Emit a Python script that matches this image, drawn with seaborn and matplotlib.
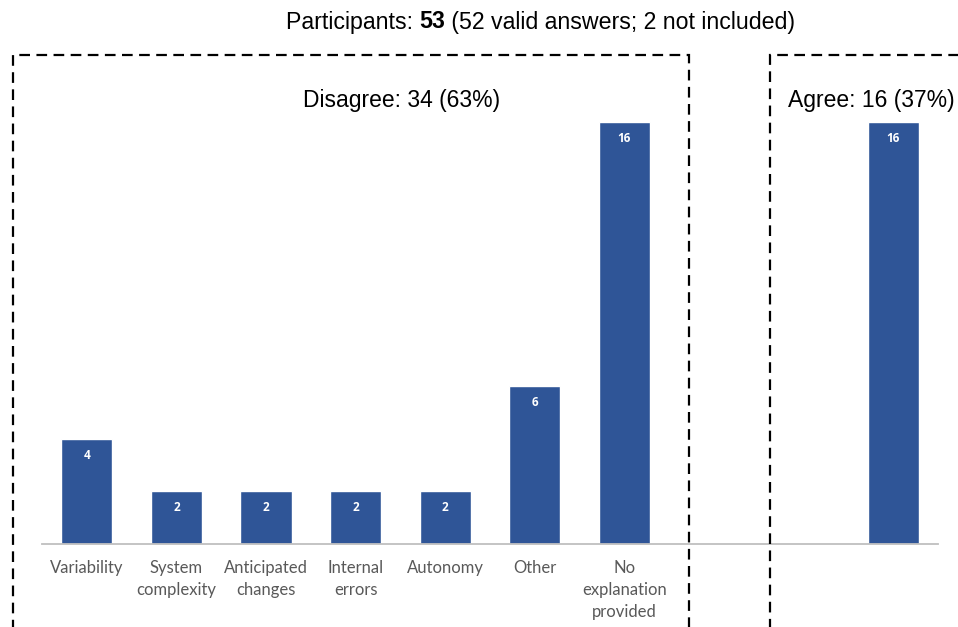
import pandas as pd
import matplotlib
matplotlib.use("Agg")
import matplotlib.pyplot as plt
import seaborn as sns
from matplotlib.patches import Rectangle

# slots on the x axis; gap_1 / gap_2 stay empty between the two groups
categories = ["Variability", "System complexity", "Anticipated changes",
              "Internal errors", "Autonomy", "Other",
              "No explanation provided", "gap_1", "gap_2", "Agree"]
tick_labels = ["Variability", "System\ncomplexity", "Anticipated\nchanges",
               "Internal\nerrors", "Autonomy", "Other",
               "No\nexplanation\nprovided", "", "", ""]
bar_categories = ["Variability", "System complexity", "Anticipated changes",
                  "Internal errors", "Autonomy", "Other",
                  "No explanation provided", "Agree"]
counts = [4, 2, 2, 2, 2, 6, 16, 16]

BAR_COLOR = "#2F5597"
W, H = 958, 627

df = pd.DataFrame({"category": bar_categories, "count": counts})

sns.set_theme(style="white")
plt.rcParams["font.family"] = ["Liberation Sans", "DejaVu Sans"]

fig = plt.figure(figsize=(W / 100, H / 100), dpi=100)
ax = fig.add_axes([42 / W, (H - 544) / H, (938 - 42) / W, (544 - 122) / H])

sns.barplot(data=df, x="category", y="count", order=categories,
            color=BAR_COLOR, saturation=1, width=0.57, ax=ax)

ax.set_xlim(-0.5, len(categories) - 0.5)
ax.set_ylim(0, 16)
ax.set_xlabel("")
ax.set_ylabel("")
ax.set_yticks([])
ax.set_xticks(range(len(categories)))
ax.set_xticklabels(tick_labels, fontfamily="Lato", fontsize=12,
                   color="#595959", linespacing=1.45, va="top")
ax.tick_params(axis="x", length=0, pad=11.5)
for side in ["top", "left", "right"]:
    ax.spines[side].set_visible(False)
ax.spines["bottom"].set_color("#BFBFBF")
ax.spines["bottom"].set_linewidth(1.3)

# value labels just inside the top of each bar
for bar in ax.patches:
    h = bar.get_height()
    if h > 0:
        ax.annotate(f"{int(h)}", (bar.get_x() + bar.get_width() / 2, h),
                    xytext=(0, -12), textcoords="offset points",
                    ha="center", va="center", color="white",
                    fontsize=8.5, fontweight="bold", fontfamily="Open Sans")

# dashed group boxes, running off the figure edges
dash = (0, (4.8, 2.9))
fig.patches.append(Rectangle((13 / W, -0.1), (689 - 13) / W, (H - 55) / H + 0.1,
                             transform=fig.transFigure, fill=False,
                             ec="black", lw=1.6, ls=dash))
fig.patches.append(Rectangle((770 / W, -0.1), 0.5, (H - 55) / H + 0.1,
                             transform=fig.transFigure, fill=False,
                             ec="black", lw=1.6, ls=dash))

# group headings
fig.text(402 / W, 1 - 100 / H, "Disagree: 34 (63%)", ha="center", va="center",
         fontsize=16.5, color="black")
fig.text(788 / W, 1 - 100 / H, "Agree: 16 (37%)", ha="left", va="center",
         fontsize=16.5, color="black")

# top line with the bold count
t1 = fig.text(286 / W, 1 - 22 / H, "Participants: ", ha="left", va="center",
              fontsize=16.7, color="black")
t2 = fig.text(0, 0, "53", fontsize=16.7, fontweight="bold", color="black")
t3 = fig.text(0, 0, " (52 valid answers; 2 not included)", fontsize=16.7,
              color="black")
fig.canvas.draw()
r = fig.canvas.get_renderer()
bb1 = t1.get_window_extent(r)
t2.set_position((bb1.x1 / W, t1.get_position()[1]))
t2.set_va("center")
fig.canvas.draw()
bb2 = t2.get_window_extent(r)
t3.set_position((bb2.x1 / W, t1.get_position()[1]))
t3.set_va("center")

fig.savefig("out.png", dpi=100)
